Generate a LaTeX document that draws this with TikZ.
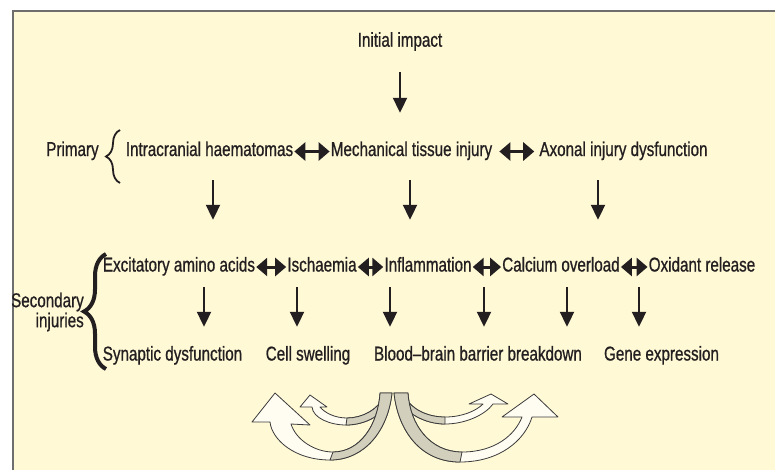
\documentclass[tikz,border=0pt]{standalone}
\usepackage{fontspec}
\setmainfont[FakeStretch=0.76,FakeBold=0.8]{Liberation Sans}
\usetikzlibrary{arrows.meta,decorations.pathreplacing}
\definecolor{bgyel}{HTML}{FFF9D6}
\definecolor{framegray}{HTML}{6E6E6E}
\definecolor{ink}{HTML}{231F20}
\definecolor{ribbon}{HTML}{FFFDF2}
\definecolor{backface}{HTML}{D2D0BC}
\definecolor{ribline}{HTML}{3A3A3A}
\begin{document}
\begin{tikzpicture}[x=1pt,y=-1pt,
  font=\fontsize{20}{20}\selectfont,
  lbl/.style={text=ink, inner xsep=1pt, inner ysep=0pt, text height=14pt, text depth=5pt, anchor=base},
  downarr/.style={draw=ink, line width=2pt, -{Triangle[width=14pt,length=15pt]}},
  botharr/.style={draw=ink, line width=3pt, {Triangle[width=18pt,length=11pt]}-{Triangle[width=18pt,length=11pt]}},
  bracestyle/.style={draw=ink, decorate},
  ribbonfill/.style={fill=ribbon, draw=ribline, line width=0.8pt, line join=round},
  backfill/.style={fill=backface, draw=ribline, line width=0.8pt, line join=round}]
\useasboundingbox (0,0) rectangle (775,469);
\clip (0,0) rectangle (775,469);
\fill[white] (0,0) rectangle (775,469);
\draw[framegray, line width=2pt, fill=bgyel] (13,11) rectangle (790,480);

% column coordinates
\coordinate (c1) at (213,0);
\coordinate (c2) at (410,0);
\coordinate (c3) at (598,0);
\coordinate (k1) at (204,0);
\coordinate (k2) at (297,0);
\coordinate (k3) at (390,0);
\coordinate (k4) at (484,0);
\coordinate (k5) at (567,0);
\coordinate (k6) at (639,0);

% texts
\node[lbl] (init) at (400,46.7) {Initial impact};
\node[lbl] (prim) at (72.5,156) {Primary};
\node[lbl] (ich) at (209.5,156) {Intracranial haematomas};
\node[lbl] (mti) at (411.5,156) {Mechanical tissue injury};
\node[lbl] (axo) at (623.5,156) {Axonal injury dysfunction};

\node[text=ink, inner sep=0pt, align=right, anchor=east] (sec) at (84,312) {Secondary\\injuries};
\node[lbl] (exc) at (179,271.5) {Excitatory amino acids};
\node[lbl] (isc) at (322,271.5) {Ischaemia};
\node[lbl] (inf) at (428,271.5) {Inflammation};
\node[lbl] (cal) at (561,271.5) {Calcium overload};
\node[lbl] (oxi) at (702,271.5) {Oxidant release};

\node[lbl] (syn) at (172.5,360.5) {Synaptic dysfunction};
\node[lbl] (cel) at (308,360.5) {Cell swelling};
\node[lbl] (bbb) at (478,360.5) {Blood--brain barrier breakdown};
\node[lbl] (gen) at (661.5,360.5) {Gene expression};

% braces
\draw[bracestyle, line width=1.8pt, decoration={brace, amplitude=14pt}] (120,183) -- (120,130);
\draw[bracestyle, line width=4pt, decoration={brace, amplitude=22pt}] (106,369) -- (106,254);

% vertical arrows
\draw[downarr, shorten <=20pt, shorten >=29pt] (init.south) -- (init.south |- mti.north);
\draw[downarr, shorten <=19pt, shorten >=37.5pt] (ich.south -| c1) -- (exc.north -| c1);
\draw[downarr, shorten <=19pt, shorten >=37.5pt] (mti.south -| c2) -- (inf.north -| c2);
\draw[downarr, shorten <=19pt, shorten >=37.5pt] (axo.south -| c3) -- (cal.north -| c3);

\draw[downarr, shorten <=10.5pt, shorten >=19.5pt] (exc.south -| k1) -- (syn.north -| k1);
\draw[downarr, shorten <=10.5pt, shorten >=19.5pt] (isc.south -| k2) -- (cel.north -| k2);
\draw[downarr, shorten <=10.5pt, shorten >=19.5pt] (inf.south -| k3) -- (bbb.north -| k3);
\draw[downarr, shorten <=10.5pt, shorten >=19.5pt] (cal.south -| k4) -- (bbb.north -| k4);
\draw[downarr, shorten <=10.5pt, shorten >=19.5pt] (cal.south -| k5) -- (bbb.north -| k5);
\draw[downarr, shorten <=10.5pt, shorten >=19.5pt] (oxi.south -| k6) -- (gen.north -| k6);

% horizontal double arrows
\draw[botharr] (ich) -- (mti);
\draw[botharr, shorten <=6pt, shorten >=4pt] (mti) -- (axo);
\draw[botharr] (exc) -- (isc);
\draw[botharr] (isc) -- (inf);
\draw[botharr] (inf) -- (cal);
\draw[botharr] (cal) -- (oxi);

% decorative curved arrows (bottom)
% small left
\path[ribbonfill] (390,398) .. controls (385,415) and (365,425) .. (346,425)
  .. controls (330,425) and (313,418) .. (312,407) -- (300,407) -- (310,395) -- (327,407) -- (320,407)
  .. controls (325,413) and (335,418) .. (347,418) .. controls (362,418) and (378,410) .. (384,396) -- cycle;
\path[backfill] (390,398) .. controls (385,415) and (365,425) .. (346,425)
  -- (347,418) .. controls (362,418) and (378,410) .. (384,396) -- cycle;
% small right
\path[ribbonfill] (398,398) .. controls (405,413) and (425,424) .. (445,424)
  .. controls (465,424) and (485,415) .. (493,404) -- (508,404) -- (491,394) -- (469,404) -- (483,404)
  .. controls (476,411) and (462,417) .. (445,417) .. controls (428,417) and (412,410) .. (404,396) -- cycle;
\path[backfill] (398,398) .. controls (405,413) and (425,424) .. (445,424)
  -- (445,417) .. controls (428,417) and (412,410) .. (404,396) -- cycle;
% big left
\path[ribbonfill] (392,393) .. controls (388,430) and (365,460) .. (330,460)
  .. controls (295,460) and (272,440) .. (270,422) -- (252,422) -- (275,393) -- (310,425) -- (291,424)
  .. controls (296,440) and (315,452) .. (333,452) .. controls (360,452) and (378,425) .. (380,393) -- cycle;
\path[backfill] (392,393) .. controls (388,430) and (365,460) .. (330,460)
  -- (333,452) .. controls (360,452) and (378,425) .. (380,393) -- cycle;
% big right
\path[ribbonfill] (394,393) .. controls (398,430) and (420,462) .. (460,462)
  .. controls (500,462) and (525,440) .. (532,417) -- (558,417) -- (534,394) -- (502,417) -- (522,417)
  .. controls (515,435) and (495,452) .. (462,452) .. controls (430,452) and (410,425) .. (408,393) -- cycle;
\path[backfill] (394,393) .. controls (398,430) and (420,462) .. (460,462)
  -- (462,452) .. controls (430,452) and (410,425) .. (408,393) -- cycle;
\end{tikzpicture}
\end{document}
